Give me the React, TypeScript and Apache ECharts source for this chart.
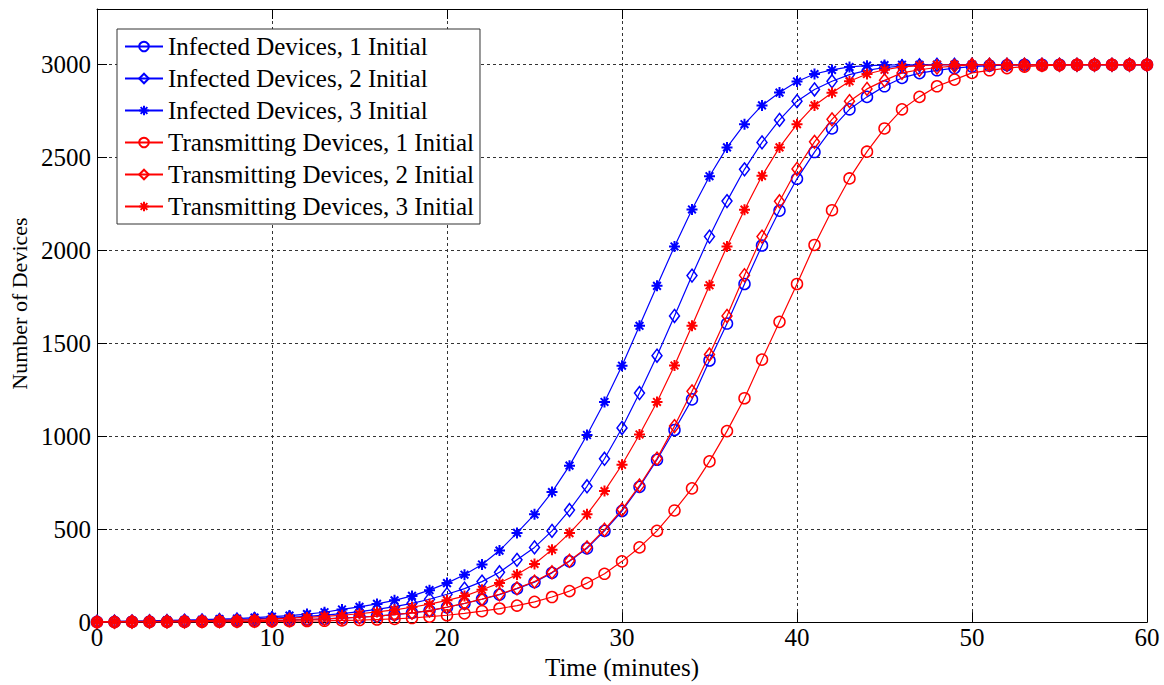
import React, { useEffect, useRef } from "react";
import * as echarts from "echarts";

// Time in minutes: 0..60
const minutes: number[] = Array.from({ length: 61 }, (_, i) => i);

const infected1: number[] = [
  1, 1, 2, 2, 3, 3, 4, 5, 6, 7, 9, 11, 14, 17, 21, 26, 32, 40, 50, 62, 80,
  100, 123, 148, 180, 215, 265, 327, 397, 491, 598,
  728, 874, 1034, 1199, 1408, 1607, 1820, 2027, 2215, 2386,
  2530, 2657, 2760, 2827, 2884, 2929, 2955, 2970, 2982, 2990,
  2995, 2998, 3000, 3000, 3000, 3000, 3000, 3000, 3000, 3000,
];
const infected2: number[] = [
  2, 3, 4, 5, 6, 8, 9, 11, 14, 17, 21, 25, 31, 38, 46, 56, 68, 83, 101, 123, 150,
  180, 218, 268, 335, 402, 491, 603, 731, 879, 1045,
  1233, 1434, 1648, 1865, 2075, 2266, 2437, 2582, 2703, 2804,
  2867, 2911, 2947, 2970, 2985, 2992, 2997, 3000, 3000, 3000,
  3000, 3000, 3000, 3000, 3000, 3000, 3000, 3000, 3000, 3000,
];
const infected3: number[] = [
  3, 4, 6, 7, 9, 11, 13, 16, 19, 24, 29, 35, 43, 53, 68, 82, 98, 117, 141, 172, 210,
  255, 310, 385, 480, 580, 700, 842, 1007, 1185, 1380,
  1595, 1810, 2022, 2221, 2400, 2555, 2680, 2781, 2850, 2910,
  2950, 2972, 2988, 2995, 2998, 3000, 3000, 3000, 3000, 3000,
  3000, 3000, 3000, 3000, 3000, 3000, 3000, 3000, 3000, 3000,
];
const transmitting1: number[] = [
  0, 0, 1, 1, 1, 1, 2, 2, 3, 3, 4, 5, 6, 7, 9, 11, 14, 17, 22, 29, 37,
  47, 59, 73, 89, 109, 135, 167, 210, 260, 327,
  402, 491, 601, 720, 865, 1028, 1205, 1413, 1616, 1820,
  2030, 2217, 2388, 2532, 2657, 2760, 2827, 2884, 2920, 2956,
  2970, 2982, 2990, 2995, 2998, 3000, 3000, 3000, 3000, 3000,
];
const transmitting2: number[] = [
  0, 1, 2, 2, 3, 3, 4, 5, 6, 7, 9, 11, 14, 17, 21, 26, 32, 40, 50, 62, 81,
  101, 124, 150, 182, 218, 268, 330, 402, 497, 605,
  735, 880, 1055, 1242, 1440, 1648, 1867, 2075, 2265, 2439,
  2585, 2706, 2804, 2870, 2916, 2956, 2973, 2985, 2993, 3000,
  3000, 3000, 3000, 3000, 3000, 3000, 3000, 3000, 3000, 3000,
];
const transmitting3: number[] = [
  2, 3, 4, 4, 5, 7, 8, 10, 12, 14, 17, 21, 25, 31, 37, 45, 55, 66, 80, 97, 117,
  140, 174, 210, 256, 313, 390, 479, 580, 705, 847,
  1010, 1185, 1381, 1595, 1813, 2022, 2220, 2402, 2555, 2680,
  2781, 2849, 2911, 2950, 2973, 2988, 2995, 3000, 3000, 3000,
  3000, 3000, 3000, 3000, 3000, 3000, 3000, 3000, 3000, 3000,
];

const seriesNames: string[] = [
  "Infected Devices, 1 Initial",
  "Infected Devices, 2 Initial",
  "Infected Devices, 3 Initial",
  "Transmitting Devices, 1 Initial",
  "Transmitting Devices, 2 Initial",
  "Transmitting Devices, 3 Initial",
];
const seriesValues: number[][] = [
  infected1, infected2, infected3, transmitting1, transmitting2, transmitting3,
];
const seriesColors: string[] = ["#0000ff", "#0000ff", "#0000ff", "#ff0000", "#ff0000", "#ff0000"];

const xTicks = { min: 0, max: 60, interval: 10 };
const yTicks = { min: 0, max: 3300, interval: 500 };

const ASTERISK = "path://M5 0L5 10M0 5L10 5M1.5 1.5L8.5 8.5M1.5 8.5L8.5 1.5";
const markerShapes: any[] = ["circle", "diamond", ASTERISK, "circle", "diamond", ASTERISK];
const markerSizes: any[] = [11, [10, 13], 11, 11, [10, 13], 11];

const FONT = "Liberation Serif";

export default function App() {
  const ref = useRef<HTMLDivElement>(null);
  useEffect(() => {
    if (!ref.current) return;
    const chart = echarts.init(ref.current, undefined, { renderer: "svg" });

    const series = seriesNames.map((name, i) => ({
      name,
      type: "line",
      data: minutes.map((t, k) => [t, seriesValues[i][k]]),
      symbol: markerShapes[i],
      symbolSize: markerSizes[i],
      showAllSymbol: true,
      lineStyle: { color: seriesColors[i], width: 1.2 },
      itemStyle: {
        color: "rgba(0,0,0,0)",
        borderColor: seriesColors[i],
        borderWidth: markerShapes[i] === ASTERISK ? 2 : 1.5,
      },
      emphasis: { disabled: true },
      silent: true,
      z: 3 + i,
    }));

    const axisCommon = {
      axisLine: { show: true, onZero: false, lineStyle: { color: "#000", width: 1 } },
      axisTick: { show: true, inside: true, length: 10, lineStyle: { color: "#000" } },
    };

    chart.setOption({
      animation: false,
      backgroundColor: "#ffffff",
      grid: {
        left: 97,
        top: 9,
        width: 1050,
        height: 619,
        show: false,
      },
      legend: {
        orient: "vertical",
        left: 117,
        top: 29,
        padding: [5, 6, 5, 7],
        itemGap: 7,
        itemWidth: 38,
        itemHeight: 12,
        backgroundColor: "#ffffff",
        borderColor: "#333",
        borderWidth: 1,
        textStyle: { fontFamily: FONT, fontSize: 25, color: "#000" },
        data: seriesNames,
        selectedMode: false,
      },
      xAxis: [
        {
          type: "value",
          ...xTicks,
          ...axisCommon,
          name: "Time (minutes)",
          nameLocation: "middle",
          nameGap: 28,
          nameTextStyle: { fontFamily: FONT, fontSize: 25, color: "#000" },
          axisLabel: { fontFamily: FONT, fontSize: 25, color: "#000", margin: 3 },
          splitLine: { show: true, lineStyle: { color: "#333", type: [3, 3], width: 1 } },
        },
        {
          type: "value",
          position: "top",
          ...xTicks,
          ...axisCommon,
          axisLabel: { show: false },
          splitLine: { show: false },
        },
      ],
      yAxis: [
        {
          type: "value",
          ...yTicks,
          ...axisCommon,
          name: "Number of Devices",
          nameLocation: "middle",
          nameGap: 64,
          nameTextStyle: {
            fontFamily: FONT,
            fontSize: 22,
            color: "#000",
            padding: [0, 0, 0, 24],
          },
          axisLabel: {
            fontFamily: FONT,
            fontSize: 25,
            color: "#000",
            margin: 6,
            showMaxLabel: false,
            formatter: (v: number) => String(v),
          },
          splitLine: { show: true, lineStyle: { color: "#333", type: [3, 3], width: 1 } },
        },
        {
          type: "value",
          position: "right",
          ...yTicks,
          ...axisCommon,
          axisLabel: { show: false },
          splitLine: { show: false },
        },
      ],
      series,
    });
    return () => chart.dispose();
  }, []);

  return (
    <div
      ref={ref}
      style={{ position: "fixed", left: 0, top: 0, width: 1164, height: 685, background: "#fff" }}
    />
  );
}
